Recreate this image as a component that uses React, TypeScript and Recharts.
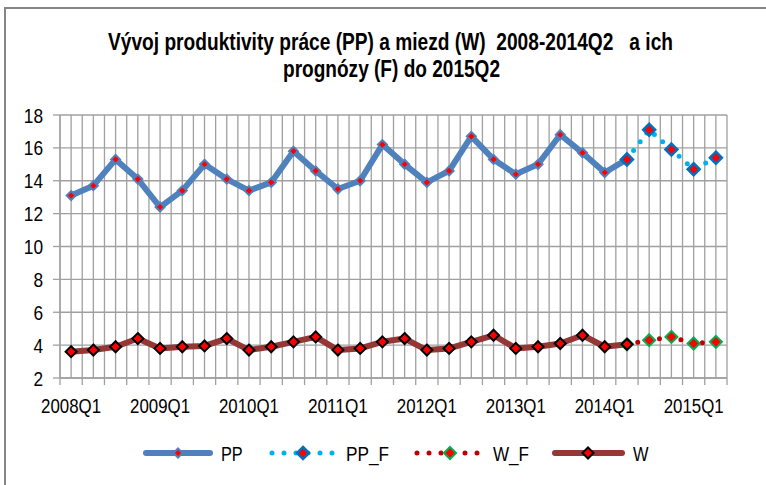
import { LineChart, Line, XAxis, YAxis, CartesianGrid } from 'recharts';

const categories = [
  '2008Q1', '2008Q2', '2008Q3', '2008Q4',
  '2009Q1', '2009Q2', '2009Q3', '2009Q4',
  '2010Q1', '2010Q2', '2010Q3', '2010Q4',
  '2011Q1', '2011Q2', '2011Q3', '2011Q4',
  '2012Q1', '2012Q2', '2012Q3', '2012Q4',
  '2013Q1', '2013Q2', '2013Q3', '2013Q4',
  '2014Q1', '2014Q2', '2014Q3', '2014Q4',
  '2015Q1', '2015Q2',
];

const pp = [
  13.1, 13.7, 15.3, 14.1, 12.4, 13.4, 15.0, 14.1, 13.4, 13.9,
  15.8, 14.6, 13.5, 14.0, 16.2, 15.0, 13.9, 14.6, 16.7, 15.3,
  14.4, 15.0, 16.8, 15.7, 14.5, 15.3, null, null, null, null,
];

const ppF = [
  null, null, null, null, null, null, null, null, null, null,
  null, null, null, null, null, null, null, null, null, null,
  null, null, null, null, null, 15.3, 17.1, 15.9, 14.7, 15.4,
];

const w = [
  3.6, 3.7, 3.9, 4.4, 3.8, 3.9, 3.95, 4.4, 3.7, 3.9,
  4.2, 4.5, 3.7, 3.8, 4.2, 4.4, 3.7, 3.8, 4.2, 4.6,
  3.8, 3.9, 4.1, 4.6, 3.9, 4.05, null, null, null, null,
];

const wF = [
  null, null, null, null, null, null, null, null, null, null,
  null, null, null, null, null, null, null, null, null, null,
  null, null, null, null, null, 4.05, 4.3, 4.5, 4.1, 4.2,
];

const yTicks = [2, 4, 6, 8, 10, 12, 14, 16, 18];

// the original uses a narrow font; squeeze Liberation Sans with textLength
const FONT = "'Liberation Sans Narrow', 'Arial Narrow', 'Liberation Sans', Arial, sans-serif";
const GRID = '#A0A0A0';

const data = categories.map((label, i) => ({
  i,
  label,
  pp: pp[i],
  ppF: ppF[i],
  w: w[i],
  wF: wF[i],
}));

// gridlines at every category centre and boundary
const xTicks: number[] = [];
for (let k = 0; k <= categories.length * 2; k++) xTicks.push(k / 2 - 0.5);

function diamond(cx: number, cy: number, r: number) {
  return `${cx},${cy - r} ${cx + r},${cy} ${cx},${cy + r} ${cx - r},${cy}`;
}

const makeDot = (r: number, stroke: string, sw: number) =>
  // eslint-disable-next-line @typescript-eslint/no-explicit-any
  (props: any) => {
    const { cx, cy, index, value } = props;
    if (value == null || cx == null || cy == null) return <g key={`d-${index}`} />;
    return (
      <polygon
        key={`d-${index}`}
        points={diamond(cx, cy, r)}
        fill="#FF0000"
        stroke={stroke}
        strokeWidth={sw}
      />
    );
  };

const ppDot = makeDot(4.5, '#4F81BD', 2);
const ppFDot = makeDot(6, '#0070C0', 2.5);
const wFDot = makeDot(6, '#00B050', 2);
const wDot = makeDot(5.5, '#000000', 2);

// eslint-disable-next-line @typescript-eslint/no-explicit-any
const XTick = (props: any) => {
  const { x, y, payload } = props;
  const v = payload.value as number;
  const isBoundary = Math.abs(v - Math.round(v)) > 0.1;
  if (isBoundary) {
    return <line x1={x} y1={y} x2={x} y2={y + 7} stroke={GRID} strokeWidth={1.3} />;
  }
  const idx = Math.round(v);
  if (idx % 4 !== 0) return <g />;
  return (
    <text
      x={x - 30}
      y={y + 35}
      fontSize={20}
      fontFamily={FONT}
      fill="#000"
      textLength={60}
      lengthAdjust="spacingAndGlyphs"
    >
      {categories[idx]}
    </text>
  );
};

// eslint-disable-next-line @typescript-eslint/no-explicit-any
const YTick = (props: any) => {
  const { x, y, payload } = props;
  const s = String(payload.value);
  const len = s.length * 9.6;
  return (
    <text
      x={x - len}
      y={y + 7.5}
      fontSize={21}
      fontFamily={FONT}
      fill="#000"
      textLength={len}
      lengthAdjust="spacingAndGlyphs"
    >
      {s}
    </text>
  );
};

function Overlay() {
  const ly = 453;
  const text = (x: number, s: string, len: number) => (
    <text x={x} y={ly + 7.5} fontSize={21} fontFamily={FONT} fill="#000" textLength={len} lengthAdjust="spacingAndGlyphs">
      {s}
    </text>
  );
  return (
    <svg width={766} height={485} style={{ position: 'absolute', left: 0, top: 0, pointerEvents: 'none' }}>
      <rect x={5} y={8} width={800} height={520} fill="none" stroke="#868686" strokeWidth={2} />
      <text fontFamily={FONT} fontWeight="bold" fontSize={23.5} fill="#000" style={{ whiteSpace: 'pre' }}>
        <tspan x={108} y={50} textLength={565} lengthAdjust="spacingAndGlyphs">
          Vývoj produktivity práce (PP) a miezd (W)  2008-2014Q2   a ich
        </tspan>
      </text>
      <text fontFamily={FONT} fontWeight="bold" fontSize={23.5} fill="#000">
        <tspan x={283} y={77} textLength={217} lengthAdjust="spacingAndGlyphs">
          prognózy (F) do 2015Q2
        </tspan>
      </text>
      <line x1={146} y1={ly} x2={210} y2={ly} stroke="#4F81BD" strokeWidth={6} strokeLinecap="round" />
      <polygon points={diamond(178, ly, 4.5)} fill="#FF0000" stroke="#4F81BD" strokeWidth={2} />
      {text(221, 'PP', 21.7)}
      <line x1={272} y1={ly} x2={335} y2={ly} stroke="#00B0F0" strokeWidth={5} strokeDasharray="0 12" strokeLinecap="round" />
      <polygon points={diamond(303, ly, 6)} fill="#FF0000" stroke="#0070C0" strokeWidth={2.5} />
      {text(346, 'PP_F', 43)}
      <line x1={417} y1={ly} x2={479} y2={ly} stroke="#C00000" strokeWidth={5} strokeDasharray="0 12" strokeLinecap="round" />
      <polygon points={diamond(450, ly, 6)} fill="#FF0000" stroke="#00B050" strokeWidth={2} />
      {text(493, 'W_F', 36)}
      <line x1={555} y1={ly} x2={622} y2={ly} stroke="#953735" strokeWidth={6} strokeLinecap="round" />
      <polygon points={diamond(588, ly, 5.5)} fill="#FF0000" stroke="#000" strokeWidth={2} />
      {text(633, 'W', 15.5)}
    </svg>
  );
}

export default function App() {
  return (
    <div style={{ position: 'absolute', left: 0, top: 0, width: 766, height: 485, background: '#fff', overflow: 'hidden' }}>
      <LineChart
        width={766}
        height={485}
        data={data}
        margin={{ top: 115, right: 39, bottom: 0, left: 0 }}
      >
        <CartesianGrid stroke={GRID} strokeWidth={1.3} />
        <XAxis
          dataKey="i"
          type="number"
          domain={[-0.5, 29.5]}
          ticks={xTicks}
          interval={0}
          height={107}
          tickLine={false}
          tickSize={0}
          tickMargin={0}
          axisLine={{ stroke: GRID, strokeWidth: 1.3 }}
          tick={<XTick />}
          allowDecimals
        />
        <YAxis
          type="number"
          domain={[2, 18]}
          ticks={yTicks}
          interval={0}
          width={60}
          tickSize={7}
          tickMargin={10}
          axisLine={{ stroke: GRID, strokeWidth: 1.3 }}
          tickLine={{ stroke: GRID, strokeWidth: 1.3 }}
          tick={<YTick />}
        />
        <Line
          dataKey="pp"
          stroke="#4F81BD"
          strokeWidth={6}
          strokeLinejoin="round"
          strokeLinecap="round"
          dot={ppDot}
          activeDot={false}
          isAnimationActive={false}
        />
        <Line
          dataKey="ppF"
          stroke="#00B0F0"
          strokeWidth={5}
          strokeDasharray="0 11"
          strokeLinecap="round"
          dot={ppFDot}
          activeDot={false}
          isAnimationActive={false}
        />
        <Line
          dataKey="wF"
          stroke="#C00000"
          strokeWidth={5}
          strokeDasharray="0 11"
          strokeLinecap="round"
          dot={wFDot}
          activeDot={false}
          isAnimationActive={false}
        />
        <Line
          dataKey="w"
          stroke="#953735"
          strokeWidth={6}
          strokeLinejoin="round"
          strokeLinecap="round"
          dot={wDot}
          activeDot={false}
          isAnimationActive={false}
        />
      </LineChart>
      <Overlay />
    </div>
  );
}
